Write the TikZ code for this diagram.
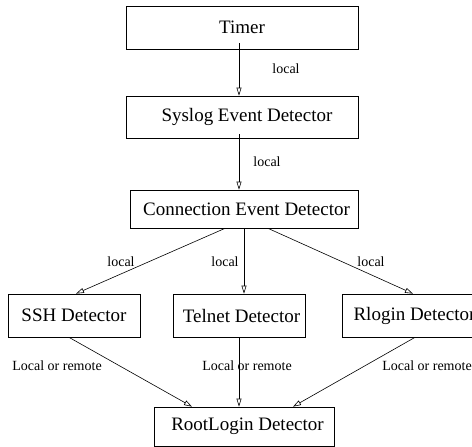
\documentclass[tikz,border=0pt]{standalone}
\usepackage{fontspec}
\setmainfont{Liberation Serif}
\usepackage{tikz}
\usetikzlibrary{arrows.meta,calc,positioning}

\begin{document}
\begin{tikzpicture}[x=1pt,y=-1pt,
    box/.style={draw,line width=0.7pt,inner sep=0pt,font=\fontsize{19}{22}\selectfont},
    lbl/.style={font=\fontsize{14}{16}\selectfont,inner sep=0pt},
    flow/.style={-{Triangle[open,length=8pt,width=5pt]},line width=0.6pt}]
  \useasboundingbox (0,0) rectangle (472,447);
  \clip (0,0) rectangle (472,447);
  \node[box,minimum width=232pt,minimum height=43pt] (timer) at (242,27.5) {Timer};
  \node[box,minimum width=232pt,minimum height=42pt] (syslog) at (242,117) {\hspace{10pt}Syslog Event Detector};
  \node[box,minimum width=228pt,minimum height=38pt] (conn) at (244,209) {\hspace{5pt}Connection Event Detector};
  \foreach \nm/\cx/\txt in {ssh/74/SSH Detector,telnet/239/\hspace{5pt}Telnet Detector,rlogin/409/\hspace{11pt}Rlogin Detector}
    \node[box,minimum width=132pt,minimum height=43pt] (\nm) at (\cx,315.5) {\txt};
  \node[box,minimum width=180pt,minimum height=39pt] (root) at (244,426.5) {\hspace{7pt}RootLogin Detector};
  % local links
  \draw[flow] ($(timer.south)+(-3,-6)$) -- ($(syslog.north)+(-3,0)$);
  \draw[flow] ($(syslog.south)+(-3,-4)$) -- ($(conn.north)+(-5,0)$);
  \draw[flow] ($(conn.south)+(-19,0)$) -- ($(ssh.north)+(2,0)$);
  \draw[flow] (conn.south) -- ($(telnet.north)+(5,0)$);
  \draw[flow] ($(conn.south)+(24,0)$) -- ($(rlogin.north)+(4,0)$);
  % local or remote links
  \draw[flow] ($(ssh.south)+(-5,0)$) -- ($(root.north)+(-52,0)$);
  \draw[flow] (telnet.south) -- ($(root.north)+(-5,0)$);
  \draw[flow] ($(rlogin.south)+(6,0)$) -- ($(root.north)+(49,0)$);
  \foreach \px/\py [count=\i] in {286/69,267/162,121/262,225/262,371/262}
    \node[lbl] (loc\i) at (\px,\py) {local};
  \foreach \px [count=\i] in {57,247,427}
    \node[lbl] (lor\i) at (\px,366) {Local or remote};
\end{tikzpicture}
\end{document}
